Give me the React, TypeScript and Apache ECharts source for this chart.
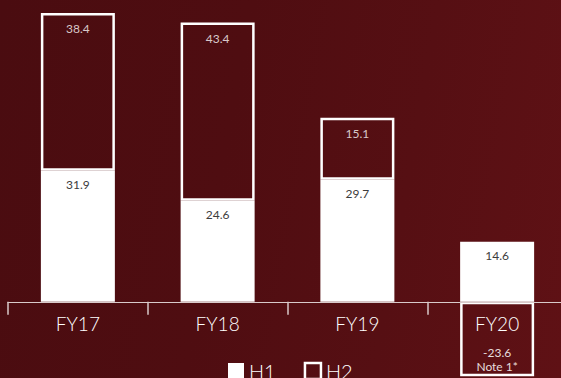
import React, { useEffect, useRef } from "react";
import * as echarts from "echarts";

const categories = ["FY17", "FY18", "FY19", "FY20"];
const h1Values = [31.9, 24.6, 29.7, 14.6];
const h2Values = [38.4, 43.4, 15.1, -23.6];
const h2Notes = ["", "", "", "Note 1*"];
const seriesNames = ["H1", "H2"];

const FONT = "Lato, 'Open Sans', sans-serif";
const Y_MIN = -17.8;
const Y_MAX = 72;
const GRID_TOP = 6;
const GRID_H = 369;

export default function App() {
  const ref = useRef<HTMLDivElement>(null);
  useEffect(() => {
    document.body.style.margin = "0";
    const chart = echarts.init(ref.current!, undefined, { renderer: "svg" });
    const h2Data = h2Values.map((v, i) =>
      v < 0
        ? {
            value: v,
            label: {
              position: "insideBottom",
              distance: 3,
              color: "#e6dddd",
              lineHeight: 14,
              formatter: () => `${v}\n${h2Notes[i]}`,
            },
          }
        : v
    );
    // distance of the zero line above the grid bottom
    const zeroOffset = (-Y_MIN / (Y_MAX - Y_MIN)) * GRID_H;
    chart.setOption({
      animation: false,
      backgroundColor: "transparent",
      textStyle: { fontFamily: FONT },
      grid: {
        left: 8,
        width: 559,
        top: GRID_TOP,
        height: GRID_H,
        containLabel: false,
        outerBoundsMode: "none",
      },
      legend: {
        left: 228,
        top: 361,
        padding: 0,
        itemWidth: 16,
        itemHeight: 16,
        itemGap: 28,
        textStyle: { color: "#ffffff", fontSize: 20, fontFamily: FONT, fontWeight: 300 },
        data: [
          { name: seriesNames[0], icon: "rect", itemStyle: { color: "#ffffff", borderWidth: 0 } },
          {
            name: seriesNames[1],
            icon: "rect",
            itemStyle: { color: "transparent", borderColor: "#ffffff", borderWidth: 2.5 },
          },
        ],
      },
      xAxis: {
        type: "category",
        data: categories,
        boundaryGap: true,
        position: "bottom",
        offset: -zeroOffset,
        axisLine: { show: true, onZero: false, lineStyle: { color: "#d9caca", width: 1.2 } },
        axisTick: { show: true, length: 13, lineStyle: { color: "#d9caca", width: 1.5 } },
        axisLabel: {
          color: "#ffffff",
          fontSize: 19,
          fontFamily: FONT,
          fontWeight: 300,
          margin: 12,
        },
        splitLine: { show: false },
        z: 5,
      },
      yAxis: {
        type: "value",
        min: Y_MIN,
        max: Y_MAX,
        show: false,
        splitLine: { show: false },
      },
      series: [
        {
          name: seriesNames[0],
          type: "bar",
          stack: "total",
          barWidth: 74,
          data: h1Values,
          itemStyle: { color: "#ffffff" },
          label: {
            show: true,
            position: "insideTop",
            distance: 8,
            color: "#3c3c3c",
            fontSize: 12,
            fontFamily: FONT,
          },
        },
        {
          name: seriesNames[1],
          type: "bar",
          stack: "total",
          barWidth: 74,
          data: h2Data,
          clip: true,
          itemStyle: { color: "transparent", borderColor: "#ffffff", borderWidth: 2.5 },
          label: {
            show: true,
            position: "insideTop",
            distance: 10,
            color: "#d8c8c8",
            fontSize: 12,
            fontFamily: FONT,
          },
        },
      ],
    });
    return () => chart.dispose();
  }, []);
  return (
    <div
      ref={ref}
      style={{
        position: "fixed",
        left: 0,
        top: 0,
        width: 561,
        height: 378,
        background:
          "linear-gradient(100deg, #4a0c10 0%, #4f0d11 40%, #560f13 70%, #5f1115 100%)",
      }}
    />
  );
}
